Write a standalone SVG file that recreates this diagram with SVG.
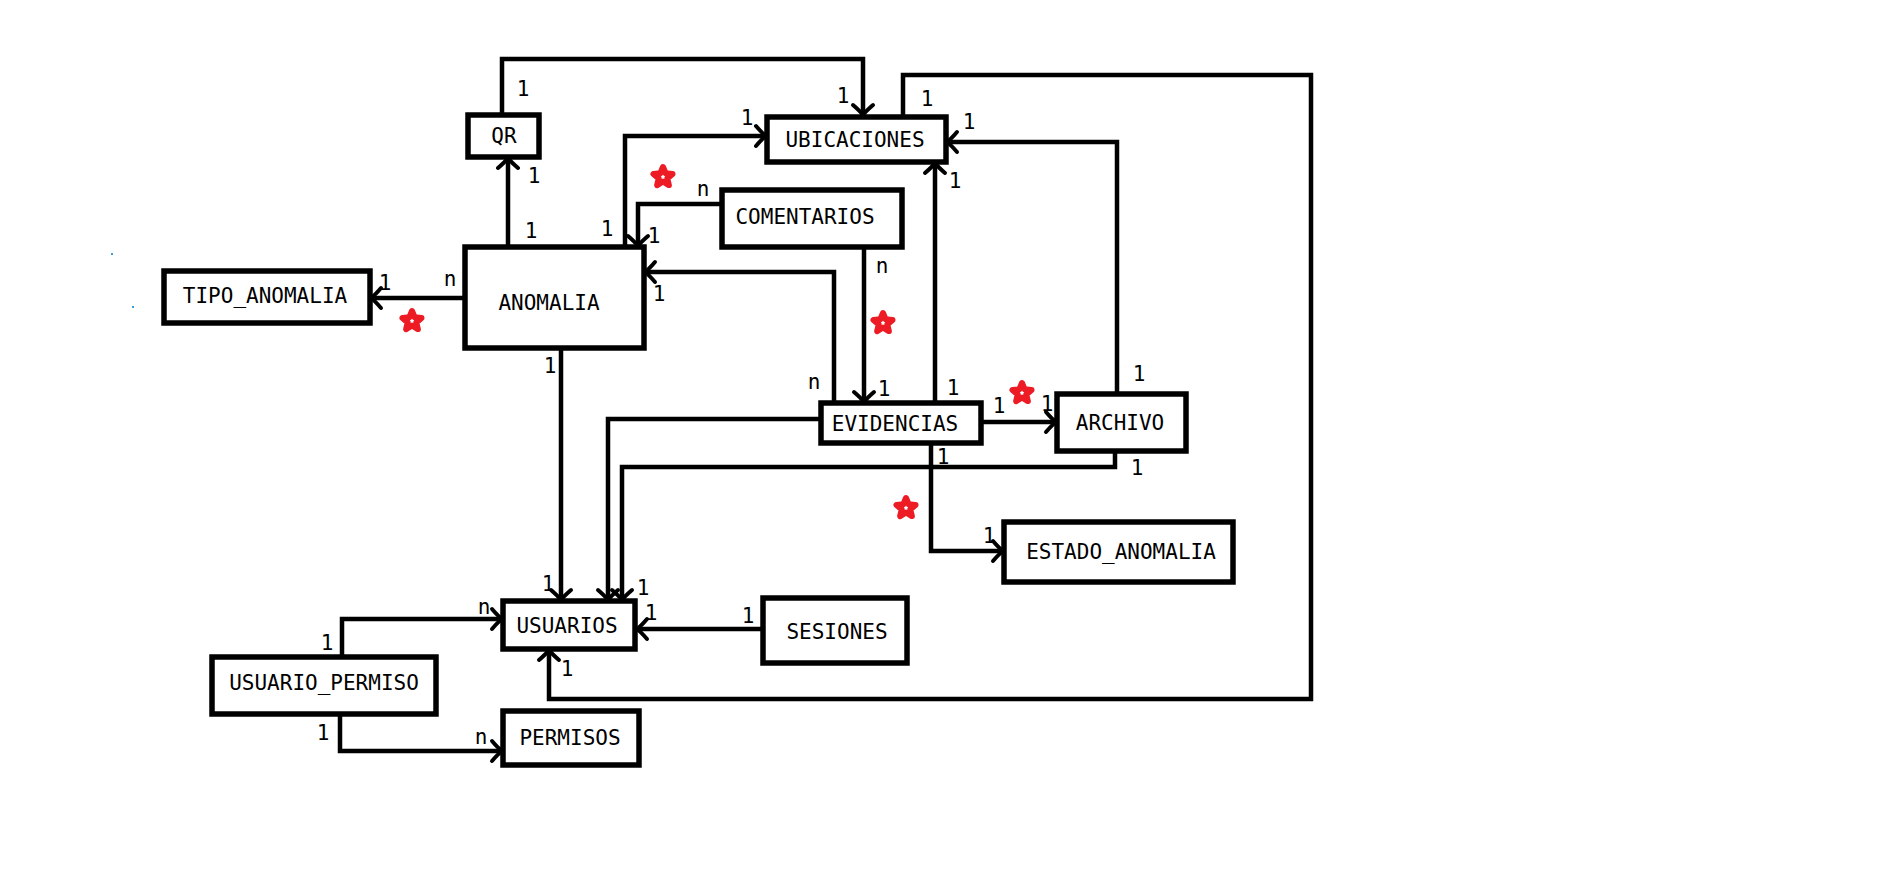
<svg xmlns="http://www.w3.org/2000/svg" width="1898" height="873" viewBox="0 0 1898 873">
  <style>
    .box { fill: #ffffff; stroke: #000000; stroke-width: 5.5; }
    .name { font-family: "DejaVu Sans Mono", "Liberation Mono", monospace; font-size: 21px; fill: #000000; text-anchor: middle; }
    .card { font-family: "DejaVu Sans Mono", "Liberation Mono", monospace; font-size: 21px; fill: #000000; text-anchor: middle; }
    .link { fill: none; stroke: #000000; stroke-width: 4.5; stroke-linejoin: miter; marker-end: url(#arrow); }
    .star { fill: none; stroke: #ED1C24; stroke-width: 6; stroke-linejoin: round; }
  </style>
  <defs>
    <marker id="arrow" markerUnits="userSpaceOnUse" markerWidth="30" markerHeight="30" viewBox="-15 -15 30 30" refX="0" refY="0" orient="auto" overflow="visible">
      <path d="M-10,-10 Q-4,-3 0,0 Q-4,3 -10,10" fill="none" stroke="#000000" stroke-width="4" stroke-linecap="round" stroke-linejoin="round"/>
    </marker>
    <polygon id="starShape" points="0,-10 2.65,-3.64 9.51,-3.09 4.28,1.39 5.88,8.09 0,4.5 -5.88,8.09 -4.28,1.39 -9.51,-3.09 -2.65,-3.64"/>
  </defs>

  <rect width="1898" height="873" fill="#ffffff"/>

  <!-- relationships -->
  <g id="connectors">
    <path class="link" d="M502,115 V59 H863 V115"/>
    <path class="link" d="M508,247 V158"/>
    <path class="link" d="M625,247 V136 H766"/>
    <path class="link" d="M722,204 H638 V246"/>
    <path class="link" d="M465,298 H371"/>
    <path class="link" d="M834,403 V272 H645"/>
    <path class="link" d="M864,247 V402"/>
    <path class="link" d="M935,403 V163"/>
    <path class="link" d="M1117,394 V142 H947"/>
    <path class="link" d="M981,422 H1056"/>
    <path class="link" d="M931,443 V551 H1003"/>
    <path class="link" d="M1115,451 V467 H622 V600"/>
    <path class="link" d="M821,419 H608 V600"/>
    <path class="link" d="M561,348 V600"/>
    <path class="link" d="M763,629 H637"/>
    <path class="link" d="M903,116 V75 H1311 V699 H549 V650"/>
    <path class="link" d="M342,657 V619 H502"/>
    <path class="link" d="M340,714 V751 H502"/>

    <!-- cardinalities -->
    <text class="card" x="523" y="96">1</text>
    <text class="card" x="843" y="103">1</text>
    <text class="card" x="534" y="183">1</text>
    <text class="card" x="531" y="238">1</text>
    <text class="card" x="607" y="236">1</text>
    <text class="card" x="747" y="125">1</text>
    <text class="card" x="703" y="196">n</text>
    <text class="card" x="654" y="243">1</text>
    <text class="card" x="450" y="286">n</text>
    <text class="card" x="385" y="290">1</text>
    <text class="card" x="814" y="389">n</text>
    <text class="card" x="659" y="301">1</text>
    <text class="card" x="882" y="273">n</text>
    <text class="card" x="884" y="396">1</text>
    <text class="card" x="953" y="395">1</text>
    <text class="card" x="955" y="188">1</text>
    <text class="card" x="1139" y="381">1</text>
    <text class="card" x="969" y="129">1</text>
    <text class="card" x="999" y="413">1</text>
    <text class="card" x="1047" y="411">1</text>
    <text class="card" x="943" y="464">1</text>
    <text class="card" x="989" y="543">1</text>
    <text class="card" x="1137" y="475">1</text>
    <text class="card" x="643" y="595">1</text>
    <text class="card" x="550" y="373">1</text>
    <text class="card" x="548" y="591">1</text>
    <text class="card" x="748" y="623">1</text>
    <text class="card" x="651" y="620">1</text>
    <text class="card" x="927" y="106">1</text>
    <text class="card" x="567" y="676">1</text>
    <text class="card" x="327" y="650">1</text>
    <text class="card" x="484" y="614">n</text>
    <text class="card" x="323" y="740">1</text>
    <text class="card" x="481" y="744">n</text>

    <!-- highlight marks -->
    <use href="#starShape" class="star" x="663" y="177"/>
    <use href="#starShape" class="star" x="412" y="321"/>
    <use href="#starShape" class="star" x="883" y="323"/>
    <use href="#starShape" class="star" x="1022" y="393"/>
    <use href="#starShape" class="star" x="906" y="508"/>
  </g>

  <!-- entities -->
  <g id="qr">
    <rect class="box" x="468" y="115" width="71" height="42"/>
    <text class="name" x="504" y="143">QR</text>
  </g>
  <g id="ubicaciones">
    <rect class="box" x="767" y="117" width="179" height="45"/>
    <text class="name" x="855" y="147">UBICACIONES</text>
  </g>
  <g id="comentarios">
    <rect class="box" x="722" y="190" width="180" height="57"/>
    <text class="name" x="805" y="224">COMENTARIOS</text>
  </g>
  <g id="tipo_anomalia">
    <rect class="box" x="164" y="271" width="206" height="52"/>
    <text class="name" x="265" y="303">TIPO_ANOMALIA</text>
  </g>
  <g id="anomalia">
    <rect class="box" x="465" y="247" width="179" height="101"/>
    <text class="name" x="549" y="310">ANOMALIA</text>
  </g>
  <g id="evidencias">
    <rect class="box" x="821" y="403" width="160" height="40"/>
    <text class="name" x="895" y="431">EVIDENCIAS</text>
  </g>
  <g id="archivo">
    <rect class="box" x="1057" y="394" width="129" height="57"/>
    <text class="name" x="1120" y="430">ARCHIVO</text>
  </g>
  <g id="estado_anomalia">
    <rect class="box" x="1004" y="522" width="229" height="60"/>
    <text class="name" x="1121" y="559">ESTADO_ANOMALIA</text>
  </g>
  <g id="usuarios">
    <rect class="box" x="503" y="601" width="132" height="48"/>
    <text class="name" x="567" y="633">USUARIOS</text>
  </g>
  <g id="sesiones">
    <rect class="box" x="763" y="598" width="144" height="65"/>
    <text class="name" x="837" y="639">SESIONES</text>
  </g>
  <g id="usuario_permiso">
    <rect class="box" x="212" y="657" width="224" height="57"/>
    <text class="name" x="324" y="690">USUARIO_PERMISO</text>
  </g>
  <g id="permisos">
    <rect class="box" x="503" y="711" width="136" height="54"/>
    <text class="name" x="570" y="745">PERMISOS</text>
  </g>

  <!-- stray specks -->
  <rect x="111" y="253" width="2" height="2" fill="#3aa0e0"/>
  <rect x="132" y="306" width="2" height="2" fill="#3aa0e0"/>
</svg>
